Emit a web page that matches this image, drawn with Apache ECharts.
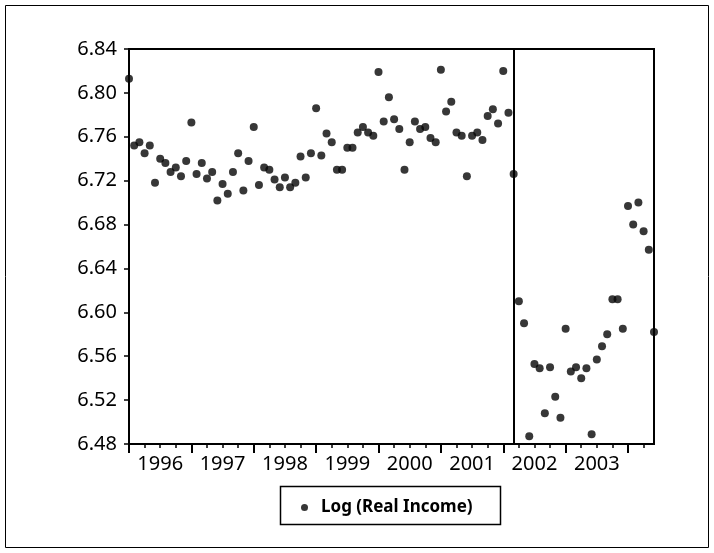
<!DOCTYPE html>
<html>
<head>
<meta charset="utf-8">
<script src="https://cdn.jsdelivr.net/npm/echarts@6/dist/echarts.min.js"></script>
<style>
  html, body { margin: 0; padding: 0; background: #fff; }
  #chart { width: 714px; height: 553px; }
</style>
</head>
<body>
<div id="chart"></div>
<script>
// monthly observations 1996M01 .. 2004M06
var startYear = 1996;
var yearLabels = ['1996', '1997', '1998', '1999', '2000', '2001', '2002', '2003'];
var yTicks = [6.48, 6.52, 6.56, 6.60, 6.64, 6.68, 6.72, 6.76, 6.80, 6.84];
var breakMonth = '2002M03';

var logRealIncome = [
  6.813, 6.752, 6.755, 6.745, 6.752, 6.718, 6.740, 6.736, 6.728, 6.732, 6.724, 6.738,
  6.773, 6.726, 6.736, 6.722, 6.728, 6.702, 6.717, 6.708, 6.728, 6.745, 6.711, 6.738,
  6.769, 6.716, 6.732, 6.730, 6.721, 6.714, 6.723, 6.714, 6.718, 6.742, 6.723, 6.745,
  6.786, 6.743, 6.763, 6.755, 6.730, 6.730, 6.750, 6.750, 6.764, 6.769, 6.764, 6.761,
  6.819, 6.774, 6.796, 6.776, 6.767, 6.730, 6.755, 6.774, 6.767, 6.769, 6.759, 6.755,
  6.821, 6.783, 6.792, 6.764, 6.761, 6.724, 6.761, 6.764, 6.757, 6.779, 6.785, 6.772,
  6.820, 6.782, 6.726, 6.610, 6.590, 6.487, 6.553, 6.549, 6.508, 6.550, 6.523, 6.504,
  6.585, 6.546, 6.550, 6.540, 6.549, 6.489, 6.557, 6.569, 6.580, 6.612, 6.612, 6.585,
  6.697, 6.680, 6.700, 6.674, 6.657, 6.582
];

var months = [];
for (var i = 0; i < logRealIncome.length; i++) {
  var y = startYear + Math.floor(i / 12);
  var m = (i % 12) + 1;
  months.push(y + 'M' + (m < 10 ? '0' + m : m));
}

var chart = echarts.init(document.getElementById('chart'));
var font = 'Noto Sans';

var option = {
  animation: false,
  backgroundColor: '#fff',
  textStyle: { fontFamily: font },
  grid: {
    left: 129, top: 49, width: 525, height: 395,
    show: true, borderColor: '#000', borderWidth: 2
  },
  legend: {
    left: 296, top: 494,
    icon: 'circle', itemWidth: 7, itemHeight: 7,
    textStyle: { fontFamily: font, fontSize: 17, fontWeight: 'bold', color: '#000', padding: [0, 0, 0, 8] },
    data: ['Log (Real Income)']
  },
  graphic: [
    { type: 'rect', shape: { x: 5.5, y: 5.5, width: 703, height: 542 },
      style: { fill: 'none', stroke: '#000', lineWidth: 1 } },
    { type: 'rect', shape: { x: 280.5, y: 486.5, width: 220, height: 38 },
      style: { fill: 'none', stroke: '#000', lineWidth: 1.5 } }
  ],
  xAxis: [
    {
      type: 'category', data: months, boundaryGap: false,
      axisLine: { lineStyle: { color: '#000', width: 2 } },
      axisTick: { interval: function (idx) { return idx % 3 === 0; }, length: 4, lineStyle: { color: '#000', width: 1.5 } },
      axisLabel: {
        interval: function (idx) { return idx % 12 === 6; },
        formatter: function (v) { return v.slice(0, 4); },
        color: '#000', fontFamily: font, fontSize: 20, margin: 10
      },
      splitLine: { show: false }
    },
    {
      type: 'category', data: months, boundaryGap: false, position: 'bottom',
      axisLine: { show: false },
      axisTick: { interval: function (idx) { return idx % 12 === 0; }, length: 9, lineStyle: { color: '#000', width: 2 } },
      axisLabel: { show: false },
      splitLine: { show: false }
    }
  ],
  yAxis: {
    type: 'value', min: yTicks[0], max: yTicks[yTicks.length - 1], interval: 0.04,
    axisLine: { show: true, lineStyle: { color: '#000', width: 2 } },
    axisTick: { show: true, length: 5, lineStyle: { color: '#000', width: 1.5 } },
    axisLabel: {
      color: '#000', fontFamily: font, fontSize: 20, margin: 12,
      formatter: function (v) { return v.toFixed(2); }
    },
    splitLine: { show: false }
  },
  series: [{
    name: 'Log (Real Income)',
    type: 'scatter',
    data: logRealIncome,
    symbol: 'circle',
    symbolSize: 8,
    itemStyle: { color: '#050505' },
    markLine: {
      silent: true, symbol: 'none', label: { show: false },
      lineStyle: { color: '#000', type: 'solid', width: 2 },
      data: [{ xAxis: breakMonth }]
    }
  }]
};
chart.setOption(option);
</script>
</body>
</html>
